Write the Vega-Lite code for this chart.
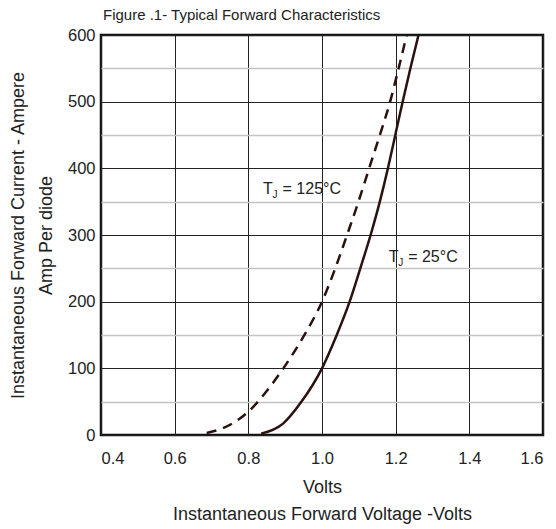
{
  "$schema": "https://vega.github.io/schema/vega-lite/v6.json",
  "width": 442,
  "height": 400,
  "autosize": {"type": "none"},
  "padding": {"left": 101, "top": 35, "right": 13, "bottom": 94},
  "background": "white",
  "config": {
    "font": "Liberation Sans",
    "view": {"stroke": "#111", "strokeWidth": 2.5},
    "axis": {"labelFont": "Liberation Sans", "titleFont": "Liberation Sans", "labelColor": "#222", "titleColor": "#222", "labelFontSize": 16.5, "titleFontSize": 18, "titleFontWeight": "normal", "domain": false, "ticks": false}
  },
  "title": {"text": "Figure .1- Typical Forward Characteristics", "anchor": "start", "frame": "group", "fontSize": 15, "fontWeight": "normal", "font": "Liberation Sans", "color": "#222", "offset": 4, "dx": 2},
  "datasets": {
    "curves": [
      {"v": 0.835, "i": 2, "s": "25"},
      {"v": 0.895, "i": 17.5, "s": "25"},
      {"v": 0.941, "i": 47.5, "s": "25"},
      {"v": 1.0, "i": 100, "s": "25"},
      {"v": 1.04, "i": 150, "s": "25"},
      {"v": 1.075, "i": 200, "s": "25"},
      {"v": 1.104, "i": 250, "s": "25"},
      {"v": 1.132, "i": 300, "s": "25"},
      {"v": 1.157, "i": 350, "s": "25"},
      {"v": 1.179, "i": 400, "s": "25"},
      {"v": 1.199, "i": 450, "s": "25"},
      {"v": 1.219, "i": 500, "s": "25"},
      {"v": 1.24, "i": 550, "s": "25"},
      {"v": 1.262, "i": 600, "s": "25"},
      {"v": 0.687, "i": 3, "s": "125"},
      {"v": 0.73, "i": 10, "s": "125"},
      {"v": 0.77, "i": 22, "s": "125"},
      {"v": 0.8, "i": 35, "s": "125"},
      {"v": 0.85, "i": 66, "s": "125"},
      {"v": 0.895, "i": 100, "s": "125"},
      {"v": 0.95, "i": 148, "s": "125"},
      {"v": 1.0, "i": 200, "s": "125"},
      {"v": 1.036, "i": 250, "s": "125"},
      {"v": 1.068, "i": 300, "s": "125"},
      {"v": 1.099, "i": 350, "s": "125"},
      {"v": 1.128, "i": 400, "s": "125"},
      {"v": 1.157, "i": 450, "s": "125"},
      {"v": 1.185, "i": 500, "s": "125"},
      {"v": 1.208, "i": 550, "s": "125"},
      {"v": 1.23, "i": 600, "s": "125"}
    ],
    "labels": [
      {"v": 0.84, "i": 362, "t": "= 125°C"},
      {"v": 1.181, "i": 260, "t": "= 25°C"}
    ]
  },
  "encoding": {
    "x": {"field": "v", "type": "quantitative", "scale": {"domain": [0.4, 1.6], "nice": false, "zero": false},
      "axis": {"values": [0.4, 0.6, 0.8, 1.0, 1.2, 1.4, 1.6], "format": ".1f", "labelPadding": 15, "gridColor": "#222", "gridWidth": 1, "gridOpacity": 1,
        "title": ["Volts", "Instantaneous Forward Voltage -Volts"], "titleLineHeight": 27, "titlePadding": 12}},
    "y": {"field": "i", "type": "quantitative", "scale": {"domain": [0, 600], "nice": false},
      "axis": {"values": [0, 50, 100, 150, 200, 250, 300, 350, 400, 450, 500, 550, 600], "labelExpr": "datum.value % 100 === 0 ? datum.label : ''",
        "labelPadding": 6, "gridOpacity": 1, "gridWidth": {"condition": {"test": "datum.value % 100 === 0", "value": 1}, "value": 1.5},
        "gridColor": {"condition": {"test": "datum.value % 100 === 0", "value": "#222"}, "value": "#c4c4c4"},
        "title": ["Instantaneous  Forward  Current - Ampere", "Amp   Per diode"], "titleLineHeight": 28, "titlePadding": 12}}
  },
  "layer": [
    {"data": {"name": "curves"}, "transform": [{"filter": "datum.s === '25'"}],
      "mark": {"type": "line", "color": "#2a1210", "strokeWidth": 2.5, "interpolate": "monotone"},
      "encoding": {"order": {"field": "i", "type": "quantitative"}}},
    {"data": {"name": "curves"}, "transform": [{"filter": "datum.s === '125'"}],
      "mark": {"type": "line", "color": "#2a1210", "strokeWidth": 2.5, "strokeDash": [10, 7], "interpolate": "monotone"},
      "encoding": {"order": {"field": "i", "type": "quantitative"}}},
    {"data": {"name": "labels"},
      "mark": {"type": "text", "align": "left", "baseline": "alphabetic", "fontSize": 16, "color": "#222", "font": "Liberation Sans"},
      "encoding": {"text": {"value": "T"}}},
    {"data": {"name": "labels"},
      "mark": {"type": "text", "align": "left", "baseline": "alphabetic", "fontSize": 10, "color": "#222", "font": "Liberation Sans", "dx": 9.5, "dy": 4},
      "encoding": {"text": {"value": "J"}}},
    {"data": {"name": "labels"},
      "mark": {"type": "text", "align": "left", "baseline": "alphabetic", "fontSize": 16, "color": "#222", "font": "Liberation Sans", "dx": 19.5},
      "encoding": {"text": {"field": "t"}}}
  ]
}
